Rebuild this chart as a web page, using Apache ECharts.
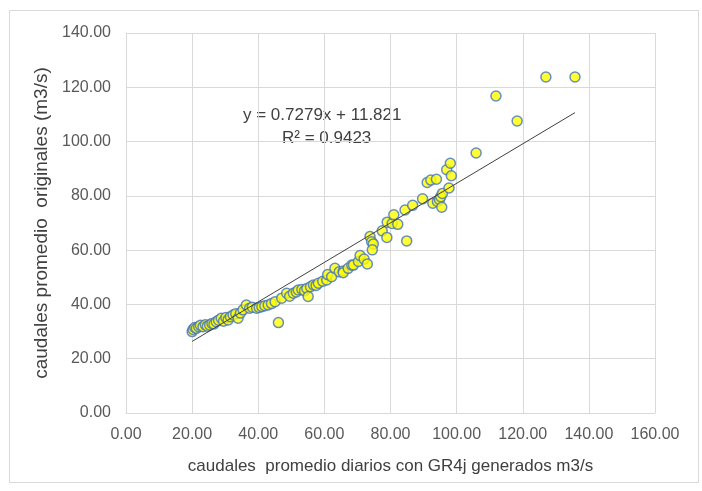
<!DOCTYPE html>
<html><head><meta charset="utf-8">
<script src="https://cdn.jsdelivr.net/npm/echarts@6/dist/echarts.min.js"></script>
<style>html,body{margin:0;padding:0;background:#fff}#c{width:702px;height:491px}</style>
</head><body><div id="c"></div>
<script>
const generatedX = [20.0,20.3,20.8,21.3,22.0,22.5,23.3,24.0,24.6,25.3,26.0,26.6,27.3,28.0,28.8,29.5,30.2,30.9,31.6,32.4,33.2,33.9,34.6,35.4,36.4,37.4,38.2,39.5,40.3,41.1,42.0,43.0,44.0,45.1,46.1,47.1,48.6,49.5,50.6,51.5,52.1,53.2,54.0,54.7,55.1,55.8,56.7,57.5,58.2,59.5,60.7,61.0,62.2,63.2,64.5,65.7,65.7,67.2,68.3,68.8,70.3,70.8,72.0,73.0,73.8,74.3,74.8,74.5,77.5,78.9,79.0,80.5,81.0,82.2,84.4,84.9,86.7,89.7,91.1,92.2,92.8,93.9,94.2,94.8,95.2,95.5,95.7,97.0,97.7,98.1,98.4,105.9,111.9,118.3,127.0,135.8];
const originalY = [30.0,30.8,31.5,31.2,31.8,32.3,31.8,32.5,32.0,32.4,33.0,32.8,33.6,34.2,34.9,33.8,35.2,34.3,35.5,36.1,36.6,34.9,36.8,38.0,39.8,38.6,39.0,38.6,38.9,39.2,39.5,39.8,40.3,41.0,33.3,42.3,44.1,43.0,44.1,44.6,45.3,45.5,45.0,45.9,42.9,46.5,47.2,47.0,47.8,48.5,49.0,51.0,50.2,53.3,52.0,52.3,51.7,53.3,54.5,54.5,55.8,58.0,56.7,54.9,65.0,63.1,62.3,60.1,67.1,64.7,70.3,69.8,73.0,69.5,74.8,63.4,76.5,78.9,84.9,85.8,77.3,86.1,77.9,78.7,79.7,75.8,80.9,89.6,82.9,92.0,87.4,95.8,116.8,107.6,123.8,123.8];
const trendSlope = 0.7279;
const trendIntercept = 11.821;
const trendRange = [20.0, 135.8];
const equationText = 'y = 0.7279x + 11.821';
const r2Text = 'R² = 0.9423';
const xTitle = 'caudales  promedio diarios con GR4j generados m3/s';
const yTitle = 'caudales promedio  originales (m3/s)';

const pts = generatedX.map((x,i)=>[x, originalY[i]]);
const trend = trendRange.map(x=>[x, trendSlope*x + trendIntercept]);
const font = 'Liberation Sans';
const chart = echarts.init(document.getElementById('c'));
chart.setOption({
  animation:false,
  backgroundColor:'#fff',
  grid:{left:126,right:47,top:33,bottom:78},
  xAxis:{type:'value',min:0,max:160,interval:20,
    axisLine:{show:true,lineStyle:{color:'#D9D9D9'}},axisTick:{show:false},
    splitLine:{show:true,lineStyle:{color:'#D9D9D9',width:1}},
    axisLabel:{formatter:v=>v.toFixed(2),color:'#595959',fontFamily:font,fontSize:16,margin:14},
    name:xTitle,nameLocation:'middle',nameGap:45,
    nameTextStyle:{color:'#404040',fontFamily:font,fontSize:17}},
  yAxis:{type:'value',min:0,max:140,interval:20,
    axisLine:{show:true,lineStyle:{color:'#D9D9D9'}},axisTick:{show:false},
    splitLine:{show:true,lineStyle:{color:'#D9D9D9',width:1}},
    axisLabel:{formatter:v=>v.toFixed(2),color:'#595959',fontFamily:font,fontSize:16,margin:15},
    name:yTitle,nameLocation:'middle',nameGap:63,
    nameTextStyle:{color:'#404040',fontFamily:font,fontSize:19}},
  graphic:[
    {type:'rect',shape:{x:9.5,y:10.5,width:689,height:472},style:{fill:'none',stroke:'#D9D9D9',lineWidth:1},silent:true,z:-1},
    {type:'text',left:243,top:107,style:{text:equationText,fill:'#404040',font:'17px "Liberation Sans"'}},
    {type:'text',left:282,top:130,style:{text:r2Text,fill:'#404040',font:'17px "Liberation Sans"'}}
  ],
  series:[
    {type:'line',data:trend,symbol:'none',lineStyle:{color:'#404040',width:1},z:3},
    {type:'scatter',data:pts,symbol:'circle',symbolSize:10,
     itemStyle:{color:'#FFFF00',borderColor:'#4472C4',borderWidth:1.5},z:2}
  ]
});
</script></body></html>
